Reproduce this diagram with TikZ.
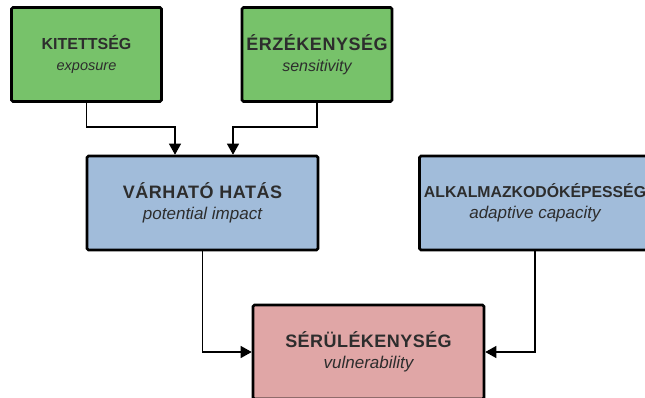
\documentclass[tikz,border=0pt]{standalone}
\usepackage{fontspec}
\setmainfont{Liberation Sans}
\usetikzlibrary{arrows.meta}
\definecolor{gbox}{RGB}{119,194,106}
\definecolor{bbox}{RGB}{161,188,218}
\definecolor{pbox}{RGB}{224,166,166}
\definecolor{txt}{RGB}{45,45,45}
% title: size, letterspace, text
\newcommand\myttl[3]{{\fontsize{#1}{21}\selectfont\bfseries\addfontfeature{LetterSpace=#2}#3}}
\newcommand\mysub[2]{{\fontsize{#1}{21}\selectfont\itshape #2}}
\tikzset{
  box/.style={draw=black, line width=2.6pt, rounded corners=1.5pt, minimum width=#1, minimum height=94pt, align=center, text=txt, font=\fontsize{16}{21}\selectfont, inner sep=0pt},
  conn/.style={draw=black, line width=1.1pt, -{Triangle[width=12pt,length=11pt]}}
}
\begin{document}
\begin{tikzpicture}[x=1pt,y=-1pt]
\useasboundingbox (0,0) rectangle (645,397);
\clip (0,0) rectangle (645,397);
\node[box=150pt, fill=gbox] (kit) at (86.5,54.5) {\myttl{16}{0}{KITETTSÉG}\\\mysub{14.5}{exposure}};
\node[box=150pt, fill=gbox] (erz) at (317,54.5) {\myttl{18}{3}{ÉRZÉKENYSÉG}\\\mysub{16}{sensitivity}};
\node[box=231pt, fill=bbox] (var) at (202.5,203) {\myttl{18}{3}{VÁRHATÓ HATÁS}\\\mysub{17}{potential impact}};
\node[box=231pt, fill=bbox] (alk) at (535,203) {\myttl{15.8}{0}{ALKALMAZKODÓKÉPESSÉG}\\\mysub{17}{adaptive capacity}};
\node[box=231pt, fill=pbox] (ser) at (368.5,352) {\myttl{18}{2.5}{SÉRÜLÉKENYSÉG}\\\mysub{17}{vulnerability}};
\coordinate (kj) at (86.5,127);
\coordinate (ej) at (317,127);
\draw[conn] (kit.south) -- (kj) -| ([xshift=-27.5pt]var.north);
\draw[conn] (erz.south) -- (ej) -| ([xshift=30.5pt]var.north);
\draw[conn] (var.south) |- (ser.west);
\draw[conn] (alk.south) |- (ser.east);
\end{tikzpicture}
\end{document}
